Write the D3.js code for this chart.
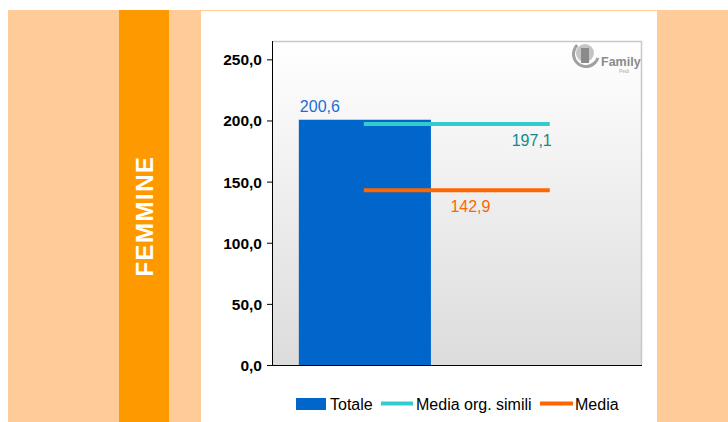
<!DOCTYPE html>
<html><head><meta charset="utf-8">
<script src="https://cdn.jsdelivr.net/npm/d3@7"></script>
<style>body{margin:0;background:#fff;}svg{display:block;} svg text{font-family:"Liberation Sans",Arial,sans-serif !important;}</style>
</head><body>
<svg id="c" width="728" height="422"></svg>
<script>
const categories = ["Femmine"];
const totale = [200.6];
const mediaSimili = [197.1];
const media = [142.9];
const yTicks = [0, 50, 100, 150, 200, 250];
const legendLabels = ["Totale", "Media org. simili", "Media"];
const sideLabel = "FEMMINE";

const svg = d3.select("#c");
const fmt = v => d3.format(".1f")(v).replace(".", ",");

// background panels
svg.append("rect").attr("x", 8).attr("y", 10).attr("width", 720).attr("height", 412).attr("fill", "#FFCC99");
svg.append("rect").attr("x", 119).attr("y", 10).attr("width", 50).attr("height", 412).attr("fill", "#FF9900");
svg.append("rect").attr("x", 200.5).attr("y", 10.5).attr("width", 457).attr("height", 412).attr("fill", "#fff").attr("stroke", "#FFCC99");
svg.append("text").attr("transform", "translate(153,216) rotate(-90)")
  .attr("text-anchor", "middle").attr("fill", "#fff").attr("font-weight", "bold")
  .attr("font-size", 24).attr("letter-spacing", 1.5).text(sideLabel);

const L = 273, R = 642, T = 41, B = 365;
const y = d3.scaleLinear().domain([0, 265]).range([B, T]);
const x = d3.scaleBand().domain(categories).range([L, R]);

const defs = svg.append("defs");
const g = defs.append("linearGradient").attr("id", "bg").attr("x1", 0).attr("x2", 0).attr("y1", 0).attr("y2", 1);
g.append("stop").attr("offset", "0").attr("stop-color", "#ffffff");
g.append("stop").attr("offset", "1").attr("stop-color", "#dcdcdc");
svg.append("rect").attr("x", L).attr("y", T).attr("width", R - L).attr("height", B - T).attr("fill", "url(#bg)");
svg.append("path").attr("d", `M${L},${T + 0.5}H${R - 0.5}V${B}`).attr("fill", "none").attr("stroke", "#c8c8c8").attr("stroke-width", 1.5);

// logo
const lg = svg.append("g").attr("transform", "translate(586,54)");
lg.append("path").attr("d", d3.arc()({innerRadius: 11, outerRadius: 14, startAngle: 0.6 * Math.PI, endAngle: 1.75 * Math.PI})).attr("fill", "#a0a0a0");
lg.append("circle").attr("cx", -1).attr("cy", -1).attr("r", 9).attr("fill", "#c4c4c4");
lg.append("rect").attr("x", -5).attr("y", -6).attr("width", 8).attr("height", 15).attr("fill", "#8a8a8a");
lg.append("text").attr("x", 15).attr("y", 12).attr("font-size", 12.5).attr("font-weight", "bold").attr("fill", "#8a8a8a").text("Family");
lg.append("text").attr("x", 33).attr("y", 19).attr("font-size", 5).attr("fill", "#aaa").text("Pedi");

// axis
const ax = svg.append("g").attr("transform", `translate(${L},0)`)
  .call(d3.axisLeft(y).tickValues(yTicks).tickFormat(fmt).tickSize(6).tickPadding(5));
ax.attr("font-family", null);
ax.select(".domain").attr("stroke", "#000").attr("d", `M-0.5,${B}V${T}`);
ax.selectAll(".tick line").attr("stroke", "#000");
ax.selectAll("text").attr("font-size", 15.5).attr("font-weight", "bold").attr("fill", "#000").attr("dy", "0.35em");
svg.append("line").attr("x1", L - 6).attr("x2", R).attr("y1", B + 0.5).attr("y2", B + 0.5).attr("stroke", "#000");

// bar
const bw = x.bandwidth();
const barX = d3.scaleLinear().domain([0, 1]).range([x(categories[0]), x(categories[0]) + bw]);
svg.selectAll(".bar").data(totale).enter().append("rect")
  .attr("x", barX(0.07)).attr("width", barX(0.428) - barX(0.07))
  .attr("y", d => y(d)).attr("height", d => B - y(d)).attr("fill", "#0066CC");
svg.selectAll(".lb").data(totale).enter().append("text")
  .attr("x", barX(0.07) + 1).attr("y", d => y(d) - 8).attr("font-size", 16).attr("fill", "#1A6FD6").text(fmt);

// average lines
const lx1 = barX(0.246), lx2 = barX(0.75);
svg.append("g").selectAll("line").data(mediaSimili).enter().append("line")
  .attr("x1", lx1).attr("x2", lx2).attr("y1", d => y(d)).attr("y2", d => y(d))
  .attr("stroke", "#33CCCC").attr("stroke-width", 4);
svg.append("g").selectAll("text").data(mediaSimili).enter().append("text")
  .attr("x", lx2 + 2).attr("y", d => y(d) + 22).attr("text-anchor", "end")
  .attr("font-size", 16).attr("fill", "#138A8A").text(fmt);
svg.append("g").selectAll("line").data(media).enter().append("line")
  .attr("x1", lx1).attr("x2", lx2).attr("y1", d => y(d)).attr("y2", d => y(d))
  .attr("stroke", "#FF6600").attr("stroke-width", 4);
svg.append("g").selectAll("text").data(media).enter().append("text")
  .attr("x", barX(0.535)).attr("y", d => y(d) + 22).attr("text-anchor", "middle")
  .attr("font-size", 16).attr("fill", "#FF6600").text(fmt);

// legend
const leg = svg.append("g").attr("font-size", 16).attr("fill", "#000");
leg.append("rect").attr("x", 296).attr("y", 398).attr("width", 30).attr("height", 12).attr("fill", "#0066CC");
leg.append("text").attr("x", 330).attr("y", 410).text(legendLabels[0]);
leg.append("line").attr("x1", 381).attr("x2", 413).attr("y1", 403.5).attr("y2", 403.5).attr("stroke", "#33CCCC").attr("stroke-width", 4);
leg.append("text").attr("x", 416).attr("y", 410).text(legendLabels[1]);
leg.append("line").attr("x1", 540).attr("x2", 573).attr("y1", 403.5).attr("y2", 403.5).attr("stroke", "#FF6600").attr("stroke-width", 4);
leg.append("text").attr("x", 575).attr("y", 410).text(legendLabels[2]);
</script>
</body></html>
